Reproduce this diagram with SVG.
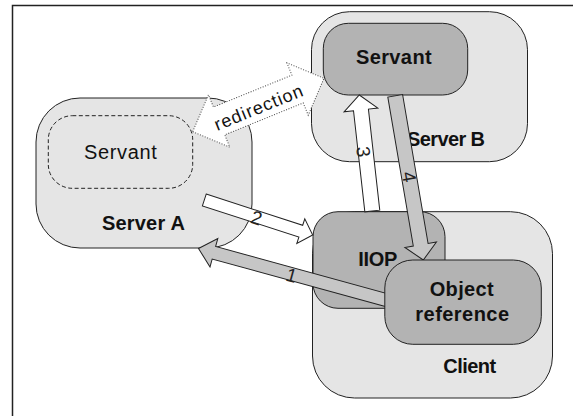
<svg xmlns="http://www.w3.org/2000/svg" width="573" height="416" viewBox="0 0 573 416">
  <style>
    .outer { fill: #e5e5e5; stroke: #222; stroke-width: 1; }
    .inner { fill: #b3b3b3; stroke: #222; stroke-width: 1; }
    .ghost { fill: none; stroke: #222; stroke-width: 1; stroke-dasharray: 4 2.5; }
    .lbl { font-family: "Liberation Sans", Arial, sans-serif; font-size: 20px; fill: #111; text-anchor: middle; }
    .b { font-weight: bold; }
    .num { font-family: "Liberation Sans", Arial, sans-serif; font-size: 19px; fill: #222; text-anchor: middle; }
    .arrow-white { fill: #fff; stroke: #222; stroke-width: 1; stroke-linejoin: miter; }
    .arrow-grey { fill: #c6c6c6; stroke: #222; stroke-width: 1; stroke-linejoin: miter; }
    .arrow-dotted { fill: #fff; stroke: #444; stroke-width: 1; stroke-dasharray: 1 1.6; }
  </style>

  <!-- page frame (only top and left edges fall inside the canvas) -->
  <path d="M12.5 416 V5.5 H573" fill="none" stroke="#222" stroke-width="1.5"/>

  <g id="server-a">
    <rect class="outer" x="36" y="98" width="216" height="150" rx="44" ry="44"/>
    <text class="lbl b" x="143.4" y="230" textLength="83" lengthAdjust="spacing">Server A</text>
  </g>
  <g id="servant-a">
    <rect class="ghost" x="48.3" y="115.7" width="144.4" height="72.6" rx="24" ry="24"/>
    <text class="lbl" x="120.4" y="159" textLength="72.7" lengthAdjust="spacing">Servant</text>
  </g>

  <g id="server-b">
    <rect class="outer" x="311.5" y="11.7" width="216" height="150" rx="38" ry="38"/>
    <text class="lbl b" x="446" y="145.5" textLength="78" lengthAdjust="spacing">Server B</text>
  </g>
  <g id="servant-b">
    <rect class="inner" x="323.3" y="23.3" width="144.4" height="71.7" rx="25" ry="25"/>
    <text class="lbl b" x="393.8" y="64.3" textLength="75.7" lengthAdjust="spacing">Servant</text>
  </g>

  <g id="client">
    <rect class="outer" x="312.5" y="211.7" width="240" height="186.3" rx="42" ry="42"/>
    <text class="lbl b" x="469.7" y="373.3" textLength="53" lengthAdjust="spacing">Client</text>
  </g>
  <g id="iiop">
    <rect class="inner" x="313" y="211.7" width="132" height="96.6" rx="25" ry="25"/>
  </g>

  <g id="connectors">
    <!-- 1: object reference back to Server A -->
    <polygon class="arrow-grey" transform="translate(387 300.3) rotate(195.37)"
             points="0,-6.5 179.5,-6.5 179.5,-14.75 195.5,0 179.5,14.75 179.5,6.5 0,6.5"/>
    <!-- 2: Server A forwards to IIOP -->
    <polygon class="arrow-white" transform="translate(204.3 200) rotate(17.9)"
             points="0,-6.2 101.4,-6.2 101.4,-13 113.9,0 101.4,13 101.4,6.2 0,6.2"/>
    <!-- 3: IIOP up to the Servant on Server B -->
    <polygon class="arrow-white" transform="translate(372.3 211) rotate(-96.4)"
             points="0,-7.5 101.7,-7.5 101.7,-17 116.7,0 101.7,17 101.7,7.5 0,7.5"/>
    <!-- 4: Servant on Server B back down to the client -->
    <polygon class="arrow-grey" transform="translate(395.2 95.8) rotate(80.29)"
             points="0,-7.5 151.1,-7.5 151.1,-16 166.6,0 151.1,16 151.1,7.5 0,7.5"/>
    <!-- redirection: double-headed, dotted outline -->
    <g transform="translate(192.7 131.7) rotate(-22.13)">
      <polygon class="arrow-dotted"
               points="0,0 28.5,-28.3 28.5,-15 113.2,-15 113.2,-28.3 141.7,0 113.2,28.3 113.2,15 28.5,15 28.5,28.3"/>
      <text class="lbl" style="font-size:18px" x="70" y="8.5" textLength="94" lengthAdjust="spacing">redirection</text>
    </g>
    <text class="num" transform="translate(291.7 275) rotate(15.4)" x="0" y="6.8">1</text>
    <text class="num" transform="translate(256.7 217.7) rotate(17.9)" x="0" y="6.8">2</text>
    <text class="num" transform="translate(363.7 151.7) rotate(83.6)" x="0" y="6.8">3</text>
    <text class="num" transform="translate(409.4 176.7) rotate(80.3)" x="0" y="6.8">4</text>
  </g>

  <g id="object-reference">
    <rect class="inner" x="384.8" y="260" width="156.5" height="84.3" rx="28" ry="28"/>
    <text class="lbl b" x="461.7" y="296" textLength="64" lengthAdjust="spacing">Object</text>
    <text class="lbl b" x="462.2" y="321" textLength="93.7" lengthAdjust="spacing">reference</text>
  </g>
  <g id="iiop-label">
    <text class="lbl b" x="377.8" y="265.7" textLength="39" lengthAdjust="spacing">IIOP</text>
  </g>
</svg>
